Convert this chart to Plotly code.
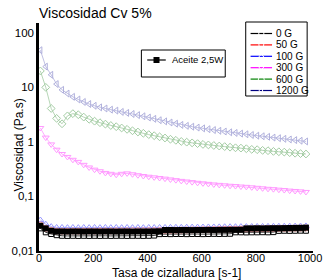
import plotly.graph_objects as go

# ---------------- data ----------------
shear_rate = [5, 25, 45, 65, 85, 105, 125, 145, 165, 185,
              205, 225, 245, 265, 285, 305, 325, 345, 365, 385,
              405, 425, 445, 465, 485, 505, 525, 545, 565, 585,
              605, 625, 645, 665, 685, 705, 725, 745, 765, 785,
              805, 825, 845, 865, 885, 905, 925, 945, 965, 985]

visc_0G = [0.026, 0.022, 0.0205, 0.0195, 0.019, 0.0189, 0.019, 0.0189, 0.019, 0.0189,
           0.019, 0.0189, 0.019, 0.0189, 0.019, 0.019, 0.0189, 0.019, 0.019, 0.0189,
           0.019, 0.0192, 0.0204, 0.0205, 0.0204, 0.0205, 0.0205, 0.0204, 0.0205, 0.0205,
           0.0204, 0.0205, 0.0206, 0.0205, 0.0206, 0.0207, 0.022, 0.022, 0.0219, 0.022,
           0.022, 0.0221, 0.022, 0.0222, 0.0234, 0.0235, 0.0234, 0.0235, 0.0236, 0.0235]

visc_50G = [0.030, 0.026, 0.024, 0.0232, 0.0231, 0.0231, 0.0232, 0.0231, 0.0232, 0.0232,
            0.0232, 0.0233, 0.0233, 0.0233, 0.0234, 0.0234, 0.0234, 0.0235, 0.0235, 0.0235,
            0.0236, 0.0236, 0.0237, 0.0238, 0.0239, 0.024, 0.0241, 0.0242, 0.0243, 0.0244,
            0.0245, 0.0246, 0.0247, 0.0248, 0.0249, 0.025, 0.0251, 0.0252, 0.0253, 0.0254,
            0.0255, 0.0256, 0.0257, 0.0258, 0.0259, 0.026, 0.0261, 0.0262, 0.0263, 0.0264]

visc_100G = [0.037, 0.031, 0.028, 0.027, 0.027, 0.0268, 0.027, 0.0268, 0.027, 0.0268,
             0.027, 0.0268, 0.027, 0.0268, 0.027, 0.0268, 0.027, 0.0268, 0.027, 0.0268,
             0.027, 0.0269, 0.027, 0.027, 0.0271, 0.0272, 0.0272, 0.0273, 0.0274, 0.0274,
             0.0275, 0.0276, 0.0276, 0.0277, 0.0278, 0.0278, 0.0279, 0.028, 0.028, 0.0281,
             0.0282, 0.0282, 0.0283, 0.0284, 0.0284, 0.0285, 0.0286, 0.0286, 0.0287, 0.0288]

visc_300G = [1.8, 1.2, 0.9, 0.72, 0.6, 0.53, 0.47, 0.43, 0.38, 0.34,
             0.31, 0.29, 0.27, 0.26, 0.25, 0.26, 0.265, 0.255, 0.245, 0.237,
             0.23, 0.224, 0.218, 0.212, 0.205, 0.199, 0.193, 0.188, 0.183, 0.178,
             0.174, 0.17, 0.166, 0.163, 0.16, 0.157, 0.155, 0.152, 0.15, 0.147,
             0.144, 0.141, 0.138, 0.136, 0.133, 0.131, 0.128, 0.126, 0.124, 0.121]

visc_600G = [20, 10, 4.1, 2.7, 2.15, 3.0, 3.3, 3.15, 2.85, 2.6,
             2.4, 2.25, 2.12, 2.0, 1.9, 1.8, 1.7, 1.6, 1.52, 1.44,
             1.36, 1.3, 1.24, 1.18, 1.12, 1.07, 1.02, 0.99, 0.96, 0.93,
             0.9, 0.88, 0.86, 0.84, 0.82, 0.8, 0.78, 0.77, 0.75, 0.73,
             0.72, 0.7, 0.69, 0.67, 0.66, 0.65, 0.635, 0.62, 0.61, 0.6]

visc_1200G = [48, 24, 17, 11.5, 9.0, 7.7, 6.7, 6.0, 5.4, 4.95,
              4.6, 4.3, 4.1, 3.9, 3.75, 3.55, 3.4, 3.25, 3.1, 2.95,
              2.8, 2.65, 2.5, 2.38, 2.27, 2.16, 2.05, 1.97, 1.9, 1.83,
              1.77, 1.71, 1.65, 1.6, 1.55, 1.5, 1.46, 1.42, 1.38, 1.34,
              1.3, 1.27, 1.24, 1.2, 1.17, 1.14, 1.11, 1.08, 1.05, 1.02]

visc_aceite = [0.029, 0.026, 0.0235, 0.0228, 0.0228, 0.0227, 0.0228, 0.0228, 0.0227, 0.0228,
               0.0228, 0.0227, 0.0228, 0.0228, 0.0227, 0.0228, 0.0228, 0.0227, 0.0228, 0.0228,
               0.0228, 0.0229, 0.023, 0.0243, 0.0243, 0.0242, 0.0243, 0.0243, 0.0242, 0.0243,
               0.0243, 0.0244, 0.0243, 0.0244, 0.0244, 0.0245, 0.0245, 0.0246, 0.026, 0.026,
               0.0261, 0.026, 0.0261, 0.0262, 0.0262, 0.0263, 0.0264, 0.0265, 0.0266, 0.0268]

series_names = ["0 G", "50 G", "100 G", "300 G", "600 G", "1200 G"]
series_values = [visc_0G, visc_50G, visc_100G, visc_300G, visc_600G, visc_1200G]
series_symbols = ["square-open", "circle-open", "triangle-up-open",
                  "triangle-down-open", "diamond-open", "triangle-left-open"]
series_pale = ["#000000", "#ff9999", "#9999ff", "#ff99ff", "#a3cca3", "#b0b0dc"]
series_strong = ["#000000", "#ff0000", "#0000ff", "#ff00ff", "#008000", "#000080"]

y_tickvals = [0.01, 0.1, 1, 10, 100]
y_ticktext = ["0,01", "0,1", "1", "10", "100"]
x_tickvals = [0, 200, 400, 600, 800, 1000]

# ---------------- layout geometry (pixels) ----------------
W, H = 334, 280
L, R, T, B = 37, 318, 23, 251
FONT = "Liberation Sans, Arial, sans-serif"


def fx(px):
    return (px - L) / (R - L)


def fy(py):
    return (B - py) / (B - T)


fig = go.Figure()

# data traces, drawn from back to front
order = [5, 4, 3, 2, 1, 0]
for i in order:
    fig.add_trace(go.Scatter(
        x=shear_rate, y=series_values[i], mode="lines+markers",
        name=series_names[i], showlegend=False,
        line=dict(color=series_pale[i], width=0.8),
        marker=dict(symbol=series_symbols[i], size=6 if i else 5,
                    color=series_pale[i], line=dict(color=series_pale[i], width=1)),
    ))

fig.add_trace(go.Scatter(
    x=shear_rate, y=visc_aceite, mode="lines+markers", name="Aceite 2,5W",
    showlegend=False,
    line=dict(color="#000000", width=1),
    marker=dict(symbol="square", size=6, color="#000000"),
))

# ---------------- hand drawn legends on an overlay axis ----------------
shapes = []
annotations = []

# legend 1
shapes.append(dict(type="rect", xref="paper", yref="paper",
                   x0=fx(249), x1=fx(312), y0=fy(96), y1=fy(22),
                   line=dict(color="black", width=1), fillcolor="white", layer="below"))
for i, name in enumerate(series_names):
    py = 33.5 + 11.4 * i
    fig.add_trace(go.Scatter(
        x=[fx(254), fx(276)], y=[fy(py), fy(py)], mode="lines",
        xaxis="x2", yaxis="y2", showlegend=False, hoverinfo="skip",
        line=dict(color=series_strong[i], width=1.2), cliponaxis=False))
    fig.add_trace(go.Scatter(
        x=[fx(265)], y=[fy(py)], mode="markers",
        xaxis="x2", yaxis="y2", showlegend=False, hoverinfo="skip", cliponaxis=False,
        marker=dict(symbol=series_symbols[i], size=5, color="white",
                    line=dict(color=series_pale[i], width=1))))
    annotations.append(dict(xref="paper", yref="paper", x=fx(277.5), y=fy(py),
                            text=name, showarrow=False, xanchor="left", yanchor="middle",
                            font=dict(family=FONT, size=10, color="black")))

# legend 2
shapes.append(dict(type="rect", xref="paper", yref="paper",
                   x0=fx(142), x1=fx(228), y0=fy(77), y1=fy(50),
                   line=dict(color="black", width=1), fillcolor="white", layer="below"))
fig.add_trace(go.Scatter(
    x=[fx(148), fx(167)], y=[fy(60), fy(60)], mode="lines",
    xaxis="x2", yaxis="y2", showlegend=False, hoverinfo="skip", cliponaxis=False,
    line=dict(color="black", width=1.2)))
fig.add_trace(go.Scatter(
    x=[fx(157.5)], y=[fy(60)], mode="markers",
    xaxis="x2", yaxis="y2", showlegend=False, hoverinfo="skip", cliponaxis=False,
    marker=dict(symbol="square", size=6, color="black")))
annotations.append(dict(xref="paper", yref="paper", x=fx(171), y=fy(60),
                        text="Aceite 2,5W", showarrow=False, xanchor="left", yanchor="middle",
                        font=dict(family=FONT, size=9.5, color="black")))

# titles
annotations.append(dict(xref="paper", yref="paper", x=fx(35), y=fy(12.5),
                        text="Viscosidad Cv 5%", showarrow=False, xanchor="left",
                        yanchor="middle", font=dict(family=FONT, size=14, color="black")))
annotations.append(dict(xref="paper", yref="paper", x=fx(177.5), y=fy(272.5),
                        text="Tasa de cizalladura [s-1]", showarrow=False, xanchor="center",
                        yanchor="middle", font=dict(family=FONT, size=12, color="black")))
annotations.append(dict(xref="paper", yref="paper", x=fx(17), y=fy(145),
                        text="Viscosidad (Pa.s)", showarrow=False, textangle=-90,
                        xanchor="center", yanchor="middle",
                        font=dict(family=FONT, size=12, color="black")))

fig.update_layout(
    width=W, height=H,
    margin=dict(l=L, r=W - R, t=T, b=H - B, pad=0),
    paper_bgcolor="white", plot_bgcolor="white",
    showlegend=False,
    font=dict(family=FONT, size=11.5, color="black"),
    xaxis=dict(range=[0, 1011], tickvals=x_tickvals, showgrid=False, zeroline=False,
               showline=True, linecolor="black", linewidth=2, ticks="",
               ticklabelstandoff=-4,
               tickfont=dict(family=FONT, size=11, color="black")),
    yaxis=dict(type="log", range=[-2, 2.18], tickvals=y_tickvals, ticktext=y_ticktext,
               showgrid=False, zeroline=False, showline=True, linecolor="black",
               linewidth=2.5, ticks="", tickfont=dict(family=FONT, size=11.5, color="black")),
    xaxis2=dict(overlaying="x", range=[0, 1], visible=False, fixedrange=True),
    yaxis2=dict(overlaying="y", range=[0, 1], visible=False, fixedrange=True),
    shapes=shapes, annotations=annotations,
)

fig.write_html("out.html", config={"displayModeBar": False},
               post_script="document.body.style.margin='0';document.body.style.overflow='hidden';")
